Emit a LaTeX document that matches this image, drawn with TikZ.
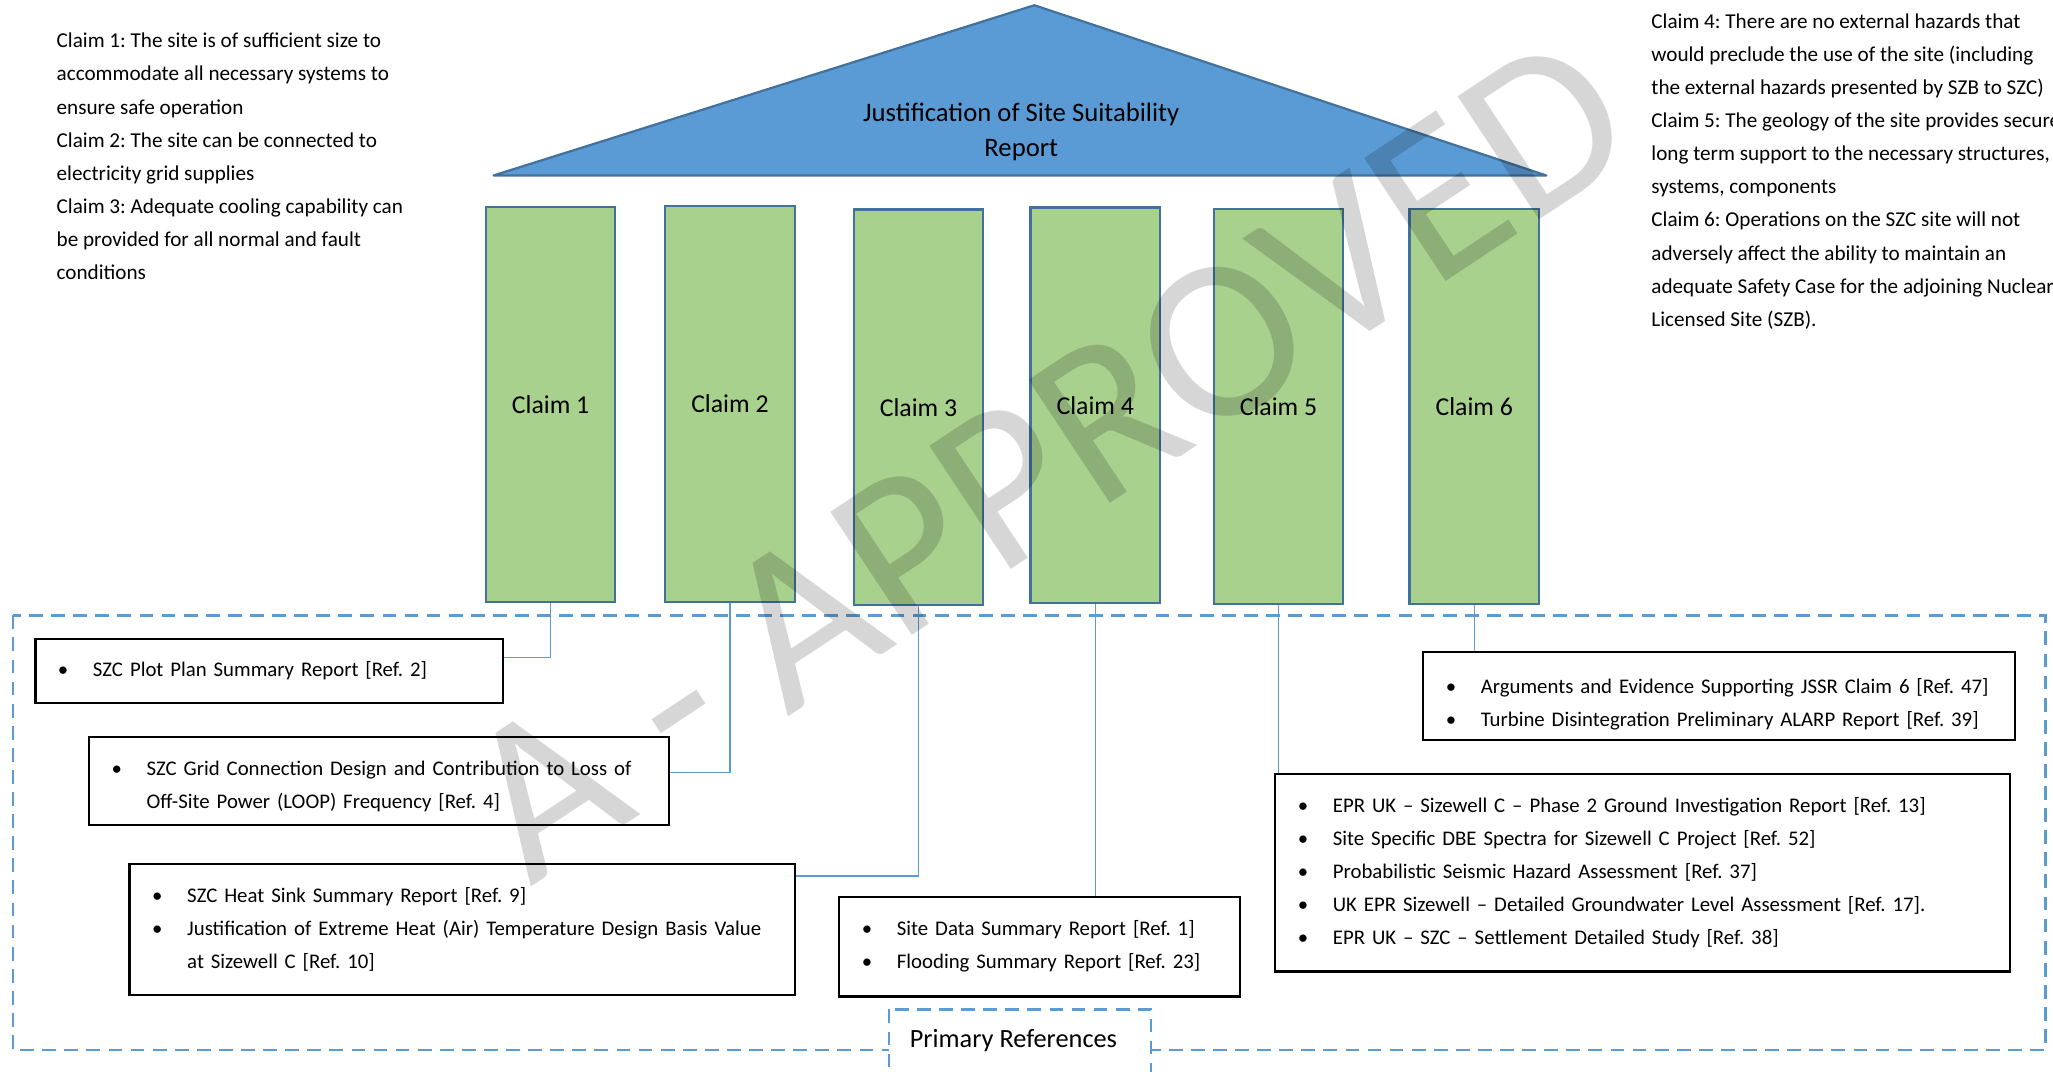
\documentclass[tikz,border=0pt]{standalone}
\usepackage{fontspec}
\setmainfont{Carlito}
\usetikzlibrary{calc}
\frenchspacing

\definecolor{roofblue}{HTML}{5B9BD5}
\definecolor{edgeblue}{HTML}{41719C}
\definecolor{claimgreen}{HTML}{A9D18E}
\definecolor{lineblue}{HTML}{5B9BD5}

% one bulleted line of a reference box, and its continuation
\newcommand{\refline}[1]{\mbox{\makebox[6.7mm][l]{\textbullet}#1}}
\newcommand{\refmore}[1]{\mbox{\hspace*{6.7mm}#1}}

\begin{document}
\begin{tikzpicture}[x=0.25mm, y=-0.25mm,
  pillar/.style={draw=edgeblue, fill=claimgreen, line width=1.2pt,
    minimum width=24.75mm, minimum height=75.5mm, inner sep=0pt,
    font=\fontsize{14}{17}\selectfont},
  refbox/.style={draw=black, line width=1.3pt, fill=white, inner xsep=4.3mm,
    inner ysep=0pt, align=left, font=\fontsize{11.3}{17.9}\selectfont},
  claimtext/.style={align=left, inner sep=0pt, font=\fontsize{11.5}{18}\selectfont},
  conn/.style={draw=lineblue, line width=0.8pt},
  refframe/.style={draw=lineblue, line width=1.5pt, dash pattern=on 7.5pt off 4.5pt}]

\useasboundingbox (0,0) rectangle (1568,818);

% Claim notes, top left and top right
\node[claimtext, anchor=north west] (notesL) at (43,25)
  {Claim 1: The site is of sufficient size to\\
   accommodate all necessary systems to\\
   ensure safe operation\\
   Claim 2: The site can be connected to\\
   electricity grid supplies\\
   Claim 3: Adequate cooling capability can\\
   be provided for all normal and fault\\
   conditions};
\node[claimtext, anchor=north west] (notesR) at (1261,10)
  {Claim 4: There are no external hazards that\\
   would preclude the use of the site (including\\
   the external hazards presented by SZB to SZC)\\
   Claim 5: The geology of the site provides secure\\
   long term support to the necessary structures,\\
   systems, components\\
   Claim 6: Operations on the SZC site will not\\
   adversely affect the ability to maintain an\\
   adequate Safety Case for the adjoining Nuclear\\
   Licensed Site (SZB).};

% Roof
\coordinate (apex) at (790,4);
\coordinate (eaveL) at (377,134);
\coordinate (eaveR) at (1181,134);
\draw[draw=edgeblue, fill=roofblue, line width=1.2pt, line join=round]
  (eaveL) -- (apex) -- (eaveR) -- cycle;
\node[align=center, font=\fontsize{14.5}{19}\selectfont] (title) at (780,101)
  {Justification of Site Suitability\\Report};

% Primary references frame
\draw[refframe] (10,470) rectangle (1562,802);
\draw[refframe, fill=white] (679,771) rectangle (879,840);
\node[font=\fontsize{14.3}{17}\selectfont] (primary) at (774,795) {Primary References};

% Pillars
\node[pillar] (c1) at (420.5,309) {Claim 1};
\node[pillar] (c2) at (557.5,308.5) {Claim 2};
\node[pillar] (c3) at (701.5,311) {Claim 3};
\node[pillar] (c4) at (836.5,309.5) {Claim 4};
\node[pillar] (c5) at (976.5,310.5) {Claim 5};
\node[pillar] (c6) at (1126,310.5) {Claim 6};

% Reference boxes
\node[refbox, text width=80.65mm, minimum height=12.25mm] (r1) at (205.5,512.5)
  {\refline{SZC Plot Plan Summary Report [Ref. 2]}};
\node[refbox, text width=102.15mm, minimum height=16.75mm, text depth=13.3pt] (r2) at (289.5,596.5)
  {\refline{SZC Grid Connection Design and Contribution to Loss of}\\
   \refmore{Off-Site Power (LOOP) Frequency [Ref. 4]}};
\node[refbox, text width=118.4mm, minimum height=25mm] (r3) at (353,710)
  {\refline{SZC Heat Sink Summary Report [Ref. 9]}\\
   \refline{Justification of Extreme Heat (Air) Temperature Design Basis Value}\\
   \refmore{at Sizewell C [Ref. 10]}};
\node[refbox, text width=67.9mm, minimum height=19mm] (r4) at (794,723)
  {\refline{Site Data Summary Report [Ref. 1]}\\
   \refline{Flooding Summary Report [Ref. 23]}};
\node[refbox, text width=131.65mm, minimum height=37.75mm] (r5) at (1254.5,666.5)
  {\refline{EPR UK – Sizewell C – Phase 2 Ground Investigation Report [Ref. 13]}\\
   \refline{Site Specific DBE Spectra for Sizewell C Project [Ref. 52]}\\
   \refline{Probabilistic Seismic Hazard Assessment [Ref. 37]}\\
   \refline{UK EPR Sizewell – Detailed Groundwater Level Assessment [Ref. 17].}\\
   \refline{EPR UK – SZC – Settlement Detailed Study [Ref. 38]}};
\node[refbox, text width=104.4mm, minimum height=16.75mm, text depth=11pt] (r6) at (1313,531.5)
  {\refline{Arguments and Evidence Supporting JSSR Claim 6 [Ref. 47]}\\
   \refline{Turbine Disintegration Preliminary ALARP Report [Ref. 39]}};

% Connectors from claims to their references
\draw[conn] (c1.south) |- ($(r1.north east)+(0,15)$);
\draw[conn] (c2.south) |- ($(r2.north east)+(0,28)$);
\draw[conn] (c3.south) |- ($(r3.north east)+(0,10)$);
\draw[conn] (c4.south) -- (c4.south |- r4.north);
\draw[conn] (c5.south) -- (c5.south |- r5.north);
\draw[conn] (c6.south) -- (c6.south |- r6.north);

% Watermark
\node[rotate=33.5, anchor=base west, inner sep=0pt, text=black, text opacity=0.16,
  font=\fontsize{125}{125}\selectfont] (stamp) at (405,678) {A - APPROVED};

\end{tikzpicture}
\end{document}
